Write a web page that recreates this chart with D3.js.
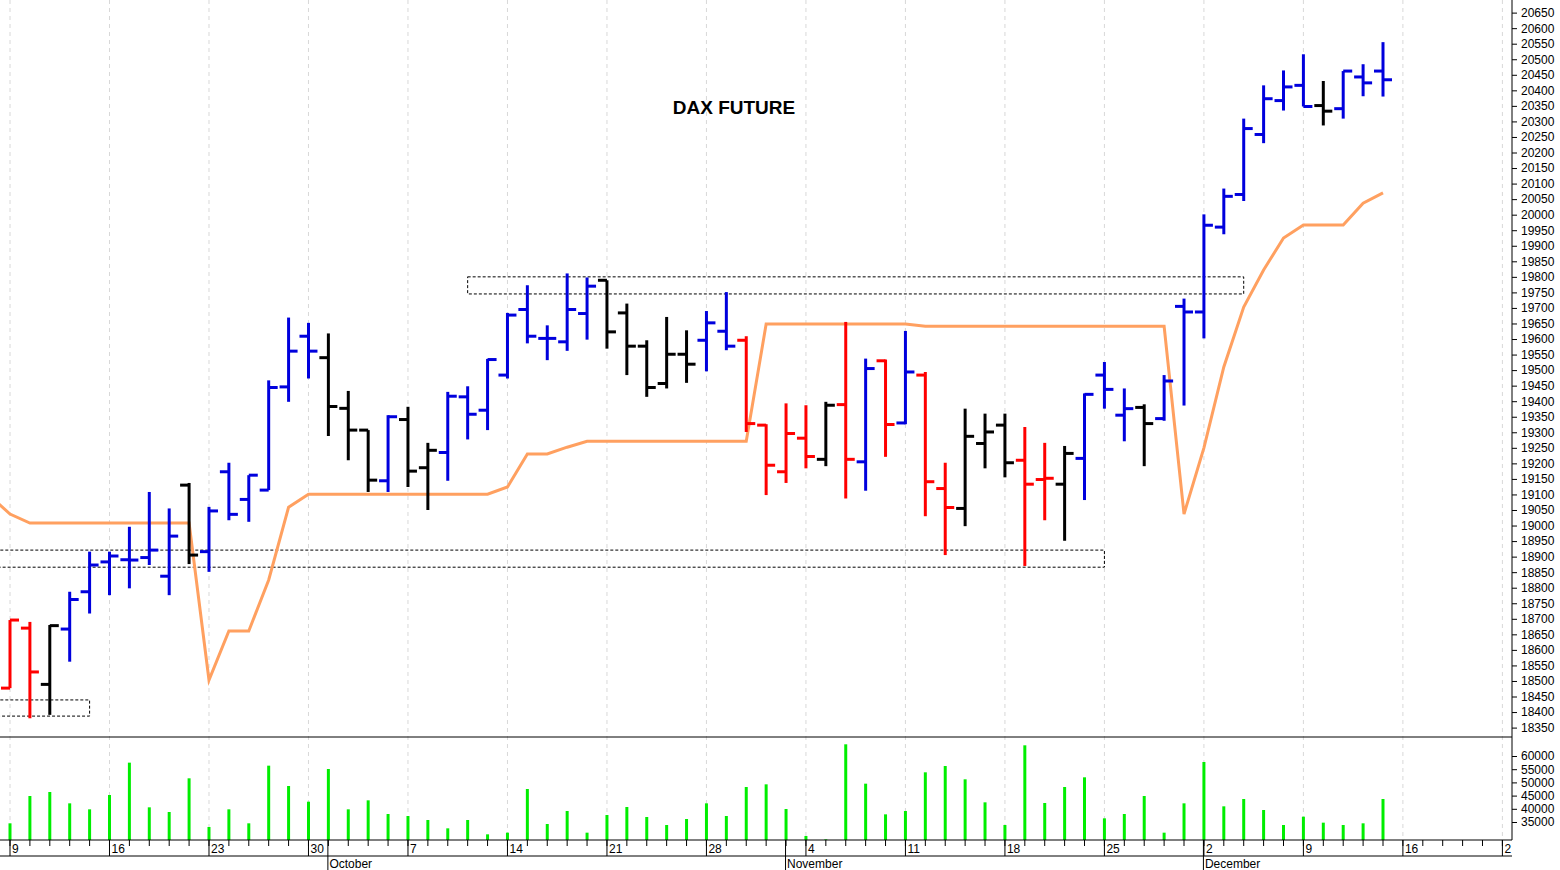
<!DOCTYPE html>
<html>
<head>
<meta charset="utf-8">
<script src="https://cdn.jsdelivr.net/npm/d3@7"></script>
<style>
  body { margin: 0; background: #fff; }
  svg { display: block; font-family: "Liberation Sans", Arial, sans-serif; }
</style>
</head>
<body>
<svg id="chart" width="1560" height="870"></svg>
<script>
// trading days, Sep 6 .. Dec 13 2024 (first one is cut off on the left)
const START = new Date(2024, 8, 6);
const END = new Date(2025, 0, 4);
const days = d3.timeDay.range(START, END).filter(d => d.getDay() != 0 && d.getDay() != 6);

// OHLC
const opens  = [18700,18477,18670,18489,18667,18787,18883,18890,18897,18837,19130,18916,19173,19084,19114,19446,19609,19540,19377,19307,19144,
  19341,19186,19235,19414,19371,19484,19695,19602,19591,19682,19789,19684,19577,19457,19551,19596,19625,19596,19323,19173,
  19281,19213,19389,19205,19530,19330,19484,19119,19055,19264,19323,19210,19148,19133,19216,19484,19355,19380,19344,19705,
  19687,19960,20065,20258,20367,20416,20351,20341,20443,20462];
const highs  = [18720,18696,18690,18680,18787,18916,18916,18996,19108,19055,19137,19060,19202,19162,19467,19669,19652,19618,19433,19307,19355,
  19382,19266,19430,19448,19536,19684,19773,19644,19811,19798,19789,19714,19596,19671,19628,19690,19751,19609,19326,19393,
  19387,19398,19655,19537,19534,19626,19494,19202,19376,19360,19360,19317,19266,19256,19425,19526,19441,19390,19484,19730,
  20001,20084,20309,20416,20464,20516,20430,20462,20484,20555];
const lows   = [18400,18477,18380,18391,18562,18717,18776,18798,18873,18776,18876,18851,19017,19012,19114,19398,19473,19288,19210,19108,19108,
  19124,19050,19144,19277,19307,19473,19586,19532,19562,19598,19569,19484,19414,19441,19459,19496,19564,19301,19098,19137,
  19184,19191,19087,19112,19221,19326,19030,18905,18998,19184,19155,18870,19017,18951,19082,19376,19271,19191,19337,19386,
  19602,19937,20044,20230,20335,20348,20287,20309,20381,20380];
const closes = [18455,18696,18529,18678,18762,18873,18902,18889,18921,18966,18905,19047,19036,19162,19444,19561,19561,19383,19307,19146,19350,
  19175,19242,19416,19358,19534,19677,19609,19602,19695,19770,19623,19577,19444,19551,19519,19652,19577,19328,19194,19296,
  19222,19387,19213,19505,19325,19494,19141,19058,19287,19301,19202,19133,19152,19232,19422,19438,19376,19328,19465,19687,
  19966,20059,20277,20373,20411,20348,20333,20462,20424,20434];
// bar colour code: r = red, b = blue, k = black
const colours = "r" + "rrk" + "bbbbbb" + "k" + "bbbbbb" + "kkk" + "b" + "kk" + "bbbbbbbb" + "kkkkk" + "bb" + "rrrr" + "k" + "r" + "b" +
  "r" + "b" + "rr" + "kkk" + "rr" + "k" + "bbb" + "k" + "bbbbbbbb" + "k" + "bbb";
const stopLine = [19095,19037,19008,19008,19008,19008,19008,19008,19008,19008,19008,18503,18661,18661,18825,19059,19101,19101,19101,19101,19101,
  19101,19101,19101,19101,19101,19124,19230,19230,19252,19271,19271,19271,19271,19271,19271,19271,19271,19271,19648,19648,
  19648,19648,19648,19648,19648,19648,19641,19641,19641,19641,19641,19641,19641,19641,19641,19641,19641,19641,19641,19037,
  19250,19510,19703,19822,19925,19967,19967,19967,20037,20070];
const volumes = [38000,34500,44850,46370,42070,39800,45230,57480,40560,38790,51550,33110,39800,34500,56340,48640,42700,55080,39800,43210,38030,
  37270,35760,32600,35760,30330,30960,47500,34240,39170,30960,37650,40680,36900,33860,36140,42070,37270,48260,49270,39920,
  29700,28430,64430,49520,37900,39170,53820,56220,51170,42450,33860,64050,42200,48260,51930,36390,38030,44850,30960,42070,
  57730,40940,43720,39550,33860,37020,34750,33860,34500,43720];
const priceTicks = d3.range(18350, 20651, 50);
const volTicks = [35000, 40000, 45000, 50000, 55000, 60000];
// dashed boxes: [from day, to day, low, high]
const boxes = [[-2, 5, 18387, 18439], [-2, 56, 18866, 18921], [24, 63, 19745, 19800]];

const PLOT_R = 1512;
const svg = d3.select("#chart");
const X = d3.scaleLinear().domain([1, 70]).range([10, 1383]);
const Y = d3.scaleLinear().domain([18350, 20550]).range([727.6, 43.7]);
const YV = d3.scaleLinear().domain([35000, 60000]).range([822, 756]);
const colourOf = {r: "#ff0000", b: "#0000dd", k: "#000000"};

svg.append("defs").append("clipPath").attr("id", "clip")
  .append("rect").attr("x", 0).attr("y", 0).attr("width", PLOT_R).attr("height", 840);

const nDays = days.length;
const mondays = d3.range(nDays).filter(i => days[i].getDay() == 1);

// vertical grid
svg.append("g").selectAll("line").data(mondays).enter().append("line")
  .attr("x1", i => X(i)).attr("x2", i => X(i)).attr("y1", 0).attr("y2", 840)
  .attr("stroke", "#d8d8d8").attr("stroke-dasharray", "4,4");

const plot = svg.append("g").attr("clip-path", "url(#clip)");

// dashed boxes
plot.selectAll(".box").data(boxes).enter().append("rect")
  .attr("x", d => X(d[0])).attr("width", d => X(d[1]) - X(d[0]))
  .attr("y", d => Y(d[3])).attr("height", d => Y(d[2]) - Y(d[3]))
  .attr("fill", "none").attr("stroke", "#000").attr("stroke-dasharray", "3,2").attr("stroke-width", 1);

// stop line
plot.append("path").datum(stopLine)
  .attr("d", d3.line().x((d, i) => X(i)).y(d => Y(d)))
  .attr("fill", "none").attr("stroke", "#ffa060").attr("stroke-width", 3);

// OHLC bars
const bars = plot.selectAll(".bar").data(d3.range(opens.length)).enter().append("g")
  .attr("stroke", i => colourOf[colours[i]]).attr("stroke-width", 3);
bars.append("line").attr("x1", i => X(i)).attr("x2", i => X(i))
  .attr("y1", i => Y(highs[i])).attr("y2", i => Y(lows[i]));
bars.append("line").attr("x1", i => X(i) - 9).attr("x2", i => X(i))
  .attr("y1", i => Y(opens[i])).attr("y2", i => Y(opens[i]));
bars.append("line").attr("x1", i => X(i)).attr("x2", i => X(i) + 9)
  .attr("y1", i => Y(closes[i])).attr("y2", i => Y(closes[i]));

// volume
plot.selectAll(".vol").data(volumes).enter().append("line")
  .attr("x1", (d, i) => X(i)).attr("x2", (d, i) => X(i))
  .attr("y1", 840).attr("y2", d => YV(d))
  .attr("stroke", "#00ee00").attr("stroke-width", 3);

// title
svg.append("text").attr("x", 734).attr("y", 114).attr("text-anchor", "middle")
  .attr("font-size", 19).attr("font-weight", "bold").attr("fill", "#000").text("DAX FUTURE");

// right axes
svg.append("line").attr("x1", PLOT_R).attr("x2", PLOT_R).attr("y1", 0).attr("y2", 840).attr("stroke", "#000");
svg.append("line").attr("x1", 0).attr("x2", PLOT_R).attr("y1", 737).attr("y2", 737).attr("stroke", "#000");
function rightAxis(scale, ticks) {
  const g = svg.append("g").attr("transform", "translate(" + PLOT_R + ",0)")
    .call(d3.axisRight(scale).tickValues(ticks).tickFormat(d3.format("d")).tickSize(5).tickPadding(4));
  g.select(".domain").remove();
  g.attr("font-size", 12).attr("font-family", "'Liberation Sans', Arial, sans-serif");
}
rightAxis(Y, priceTicks);
rightAxis(YV, volTicks);

// date axis
const dateAxis = svg.append("g");
dateAxis.append("line").attr("x1", 0).attr("x2", PLOT_R).attr("y1", 840).attr("y2", 840).attr("stroke", "#000");
dateAxis.append("line").attr("x1", 0).attr("x2", PLOT_R).attr("y1", 856).attr("y2", 856).attr("stroke", "#000");
dateAxis.selectAll(".dt").data(d3.range(nDays).filter(i => X(i) < PLOT_R)).enter().append("line")
  .attr("x1", i => X(i)).attr("x2", i => X(i)).attr("y1", 840).attr("y2", 846).attr("stroke", "#000");
dateAxis.selectAll(".wk").data(mondays).enter().append("line")
  .attr("x1", i => X(i)).attr("x2", i => X(i)).attr("y1", 840).attr("y2", 856).attr("stroke", "#000");
// the last week label does not fit before the axis, only its first digit shows
dateAxis.selectAll(".wkl").data(mondays.filter(i => X(i) < PLOT_R)).enter().append("text")
  .attr("x", i => X(i) + 2).attr("y", 853).attr("font-size", 12).attr("fill", "#000")
  .text(i => X(i) > PLOT_R - 15 ? String(days[i].getDate()).slice(0, 1) : days[i].getDate());
const monthStarts = d3.range(1, nDays).filter(i => days[i].getMonth() != days[i - 1].getMonth() && X(i) < PLOT_R - 50);
dateAxis.selectAll(".mo").data(monthStarts).enter().append("line")
  .attr("x1", i => X(i) - 0.5).attr("x2", i => X(i) - 0.5).attr("y1", 840).attr("y2", 870).attr("stroke", "#000");
dateAxis.selectAll(".mol").data(monthStarts).enter().append("text")
  .attr("x", i => X(i) + 1).attr("y", 868).attr("font-size", 12).attr("fill", "#000")
  .text(i => d3.timeFormat("%B")(days[i]));
</script>
</body>
</html>
